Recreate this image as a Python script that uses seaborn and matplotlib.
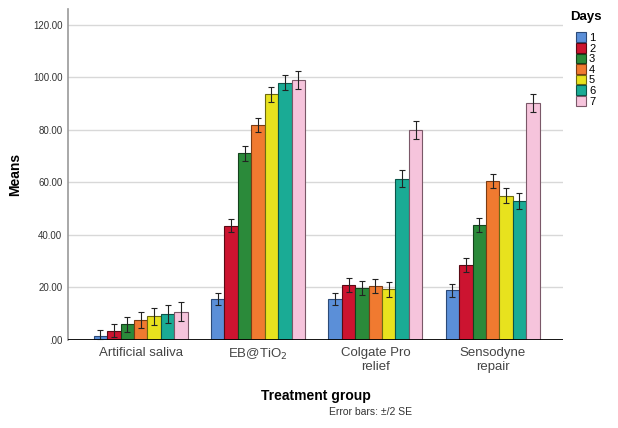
import numpy as np
import pandas as pd
import matplotlib
matplotlib.use("Agg")
import matplotlib.pyplot as plt
import seaborn as sns

groups = ["Artificial saliva", "EB@TiO$_2$", "Colgate Pro\nrelief", "Sensodyne\nrepair"]
days = ["1", "2", "3", "4", "5", "6", "7"]

# means per group, one value per day
saliva = [1.6, 3.5, 5.9, 7.6, 9.0, 9.9, 10.7]
eb_tio2 = [15.5, 43.5, 71.0, 81.7, 93.5, 98.0, 99.0]
colgate = [15.6, 21.0, 19.7, 20.4, 19.3, 61.4, 80.0]
sensodyne = [18.8, 28.6, 43.7, 60.5, 54.9, 52.8, 90.1]

# 2 SE half-widths
saliva_err = [2.2, 2.6, 2.9, 3.0, 3.2, 3.4, 3.6]
eb_err = [2.4, 2.6, 2.8, 2.6, 2.8, 3.0, 3.4]
colgate_err = [2.4, 2.6, 2.6, 2.6, 2.8, 3.2, 3.4]
sensodyne_err = [2.4, 2.6, 2.8, 2.6, 2.8, 3.0, 3.5]

colors = ["#5b8fd8", "#cc1430", "#2b8a3a", "#f07a30", "#e8e21e", "#1aab95", "#f6c4dc"]
edges = ["#2c4a78", "#5a0a14", "#14421c", "#7a3c14", "#6e6a10", "#0c5448", "#7a5868"]

means = [saliva, eb_tio2, colgate, sensodyne]
errs = [saliva_err, eb_err, colgate_err, sensodyne_err]
df = pd.DataFrame({
    "group": np.repeat(groups, len(days)),
    "day": days * len(groups),
    "mean": np.concatenate(means),
    "err": np.concatenate(errs),
})

plt.rcParams["font.family"] = ["Liberation Sans", "DejaVu Sans"]
fig = plt.figure(figsize=(6.18, 4.28), dpi=100)
ax = fig.add_axes([0.11, 0.206, 0.801, 0.773])

sns.barplot(data=df, x="group", y="mean", hue="day", order=groups, hue_order=days,
            palette=colors, saturation=1, errorbar=None, width=0.8, ax=ax,
            legend=True, zorder=2)

bar_containers = list(ax.containers)
for i, cont in enumerate(bar_containers):
    sub = df[df["day"] == days[i]].set_index("group").loc[groups]
    xs = [p.get_x() + p.get_width() / 2 for p in cont.patches]
    for p in cont.patches:
        p.set_edgecolor(edges[i])
        p.set_linewidth(0.8)
    ax.errorbar(xs, sub["mean"], yerr=sub["err"], fmt="none", ecolor="#222222",
                elinewidth=0.8, capsize=2, capthick=0.8, zorder=3)

ax.set_xlim(-0.62, 3.6)
ax.set_ylim(0, 126)
ax.set_yticks([0, 20, 40, 60, 80, 100, 120])
ax.set_yticklabels([".00", "20.00", "40.00", "60.00", "80.00", "100.00", "120.00"], fontsize=7)
ax.tick_params(axis="y", length=0, pad=4, colors="#333333")
ax.tick_params(axis="x", length=0, pad=5, labelsize=9.5, colors="#444444")
ax.yaxis.grid(True, color="#d8d8d8", linewidth=1, zorder=0)
ax.set_axisbelow(True)
for s in ["top", "right", "bottom"]:
    ax.spines[s].set_visible(False)
ax.spines["left"].set_color("#999999")
ax.spines["left"].set_linewidth(1.2)
ax.axhline(0, color="black", linewidth=2, zorder=4)

ax.set_ylabel("Means", fontsize=10, fontweight="bold", labelpad=8)
ax.set_xlabel("Treatment group", fontsize=10, fontweight="bold", labelpad=12)
fig.text(0.60, 0.037, "Error bars: \u00b1/2 SE", fontsize=7.5, color="#333333",
         ha="center", va="center")

handles, labels = ax.get_legend_handles_labels()
leg = ax.legend(handles, labels, title="Days", loc="upper left", bbox_to_anchor=(1.0, 1.015),
                frameon=False, fontsize=8, title_fontproperties={"weight": "bold", "size": 9.5},
                handlelength=0.95, handleheight=0.95, handletextpad=0.25, labelspacing=0.0,
                borderaxespad=0.2)
leg._legend_box.sep = 7
for h, e in zip(leg.legend_handles, edges):
    h.set_edgecolor(e)
    h.set_linewidth(0.8)

fig.savefig("out.png", dpi=100)
